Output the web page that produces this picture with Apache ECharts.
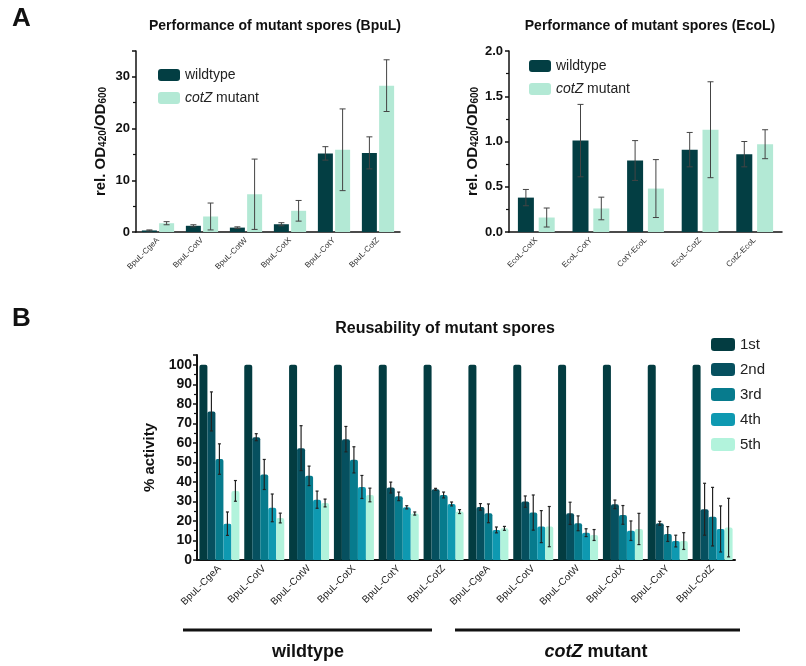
<!DOCTYPE html>
<html><head><meta charset="utf-8">
<script src="https://cdn.jsdelivr.net/npm/echarts@6/dist/echarts.min.js"></script>
<style>html,body{margin:0;padding:0;background:#fff}#c{width:806px;height:666px}</style>
</head><body><div id="c"></div>
<script>
// ---- Panel A left (BpuL) ----
const bpulCats = ['BpuL-CgeA','BpuL-CotV','BpuL-CotW','BpuL-CotX','BpuL-CotY','BpuL-CotZ'];
const bpulWT = [0.3, 1.2, 0.85, 1.5, 15.2, 15.3];
const bpulWTErr = [0.1, 0.2, 0.15, 0.3, 1.3, 3.1];
const bpulMut = [1.7, 3.0, 7.3, 4.1, 15.9, 28.3];
const bpulMutErr = [0.3, 2.6, 6.8, 2.0, 7.9, 5.0];
const bpulTicks = [0, 10, 20, 30];
// ---- Panel A right (EcoL) ----
const ecolCats = ['EcoL-CotX','EcoL-CotY','CotY-EcoL','EcoL-CotZ','CotZ-EcoL'];
const ecolWT = [0.38, 1.01, 0.79, 0.91, 0.86];
const ecolWTErr = [0.09, 0.40, 0.22, 0.19, 0.14];
const ecolMut = [0.16, 0.26, 0.48, 1.13, 0.97];
const ecolMutErr = [0.105, 0.125, 0.32, 0.53, 0.16];
// ---- Panel B ----
const reuseCats = ['BpuL-CgeA','BpuL-CotV','BpuL-CotW','BpuL-CotX','BpuL-CotY','BpuL-CotZ',
                   'BpuL-CgeA','BpuL-CotV','BpuL-CotW','BpuL-CotX','BpuL-CotY','BpuL-CotZ'];
const cycles = ['1st','2nd','3rd','4th','5th'];
const run1 = [100,100,100,100,100,100,100,100,100,100,100,100];
const run1Err = [0,0,0,0,0,0,0,0,0,0,0,0];
const run2 = [76.1, 62.9, 57.3, 61.9, 37.1, 36.2, 27.2, 29.9, 23.9, 28.5, 18.8, 26.0];
const run2Err = [10, 1.8, 11.5, 6.5, 2.8, 0.5, 1.7, 2.9, 5.7, 2.2, 1.0, 13.3];
const run3 = [51.7, 43.8, 43.1, 51.3, 32.6, 33.3, 23.9, 24.3, 18.8, 23.1, 13.3, 22.2];
const run3Err = [7.8, 7.7, 5.0, 6.7, 2.2, 1.5, 4.8, 9.0, 3.8, 4.8, 3.8, 15.0];
const run4 = [18.6, 26.7, 30.9, 37.4, 27.0, 28.7, 15.4, 17.1, 14.0, 15.0, 9.7, 15.9];
const run4Err = [6.0, 7.1, 4.4, 5.9, 0.8, 1.0, 1.5, 8.2, 2.0, 5.0, 3.0, 11.8];
const run5 = [35.4, 21.5, 29.2, 33.3, 23.8, 24.8, 16.2, 17.1, 12.8, 15.9, 9.7, 16.6];
const run5Err = [5.3, 2.5, 2.0, 3.5, 0.8, 1.0, 1.0, 10.3, 2.8, 8.0, 4.3, 15.0];
const groupLabels = ['wildtype', 'cotZ mutant'];

const FONT = "'Liberation Sans', Arial, sans-serif";
const cWT = '#033e43', cMut = '#b3e9d5';
const runColors = ['#033c41', '#06505f', '#077b8d', '#0e99b1', '#b2f3dc'];

const chart = echarts.init(document.getElementById('c'), null, {renderer: 'canvas'});

function errSeries(name, xi, yi, vals, errs, offset, cap, color, width) {
  return {
    type: 'custom', name: name, xAxisIndex: xi, yAxisIndex: yi, z: 10, silent: true,
    data: vals.map((v, i) => [i, v, errs[i]]),
    renderItem: function (params, api) {
      const i = api.value(0), v = api.value(1), e = api.value(2);
      if (!e) return null;
      const top = api.coord([i, v + e]);
      const bot = api.coord([i, Math.max(v - e, 0)]);
      const x = top[0] + offset;
      const st = {stroke: color, lineWidth: width};
      return {type: 'group', children: [
        {type: 'line', shape: {x1: x, y1: top[1], x2: x, y2: bot[1]}, style: st},
        {type: 'line', shape: {x1: x - cap, y1: top[1], x2: x + cap, y2: top[1]}, style: st},
        {type: 'line', shape: {x1: x - cap, y1: bot[1], x2: x + cap, y2: bot[1]}, style: st}
      ]};
    }
  };
}

const axisLineStyle = {lineStyle: {color: '#111', width: 1.5}};
const tickStyle = {lineStyle: {color: '#111', width: 1.5}, length: 4};

const yName = '{a|rel. OD}{s|420}{a|/OD}{s|600}';
const yNameStyle = {
  rich: {
    a: {fontSize: 15, fontWeight: 'bold', fontFamily: FONT, color: '#111', lineHeight: 20, verticalAlign: 'bottom'},
    s: {fontSize: 10, fontWeight: 'bold', fontFamily: FONT, color: '#111', lineHeight: 14, verticalAlign: 'bottom', padding: [0, 0, 0, 0]}
  }
};

const legendRich = {i: {fontStyle: 'italic', fontSize: 14, fontFamily: FONT, color: '#222'}};
function legendFmt(n) { return n === 'cotZ mutant' ? '{i|cotZ} mutant' : n; }

const option = {
  animation: false,
  backgroundColor: '#fff',
  textStyle: {fontFamily: FONT},
  title: [
    {text: 'Performance of mutant spores (BpuL)', left: 270, top: 14, textAlign: 'center',
     textStyle: {fontSize: 14, fontWeight: 'bold', fontFamily: FONT, color: '#111'}},
    {text: 'Performance of mutant spores (EcoL)', left: 645, top: 14, textAlign: 'center',
     textStyle: {fontSize: 14, fontWeight: 'bold', fontFamily: FONT, color: '#111'}},
    {text: 'Reusability of mutant spores', left: 440, top: 316, textAlign: 'center',
     textStyle: {fontSize: 16, fontWeight: 'bold', fontFamily: FONT, color: '#111'}}
  ],
  legend: [
    {data: ['wildtype', 'cotZ mutant'], left: 153, top: 63, orient: 'vertical', itemWidth: 22, itemHeight: 12,
     itemGap: 9, formatter: legendFmt, icon: 'roundRect',
     textStyle: {fontSize: 14, fontFamily: FONT, color: '#222', rich: legendRich},
     selectedMode: false},
    {data: [{name: 'wildtype '}, {name: 'cotZ mutant '}], left: 524, top: 54, orient: 'vertical', itemWidth: 22, itemHeight: 12,
     itemGap: 9, formatter: n => legendFmt(n.trim()), icon: 'roundRect',
     textStyle: {fontSize: 14, fontFamily: FONT, color: '#222', rich: legendRich},
     selectedMode: false},
    {data: cycles, left: 706, top: 332, orient: 'vertical', itemWidth: 24, itemHeight: 13, itemGap: 10,
     icon: 'roundRect', textStyle: {fontSize: 15, fontFamily: FONT, color: '#222'}, selectedMode: false}
  ],
  grid: [
    {left: 136, top: 51, width: 264, height: 181},
    {left: 509, top: 51, width: 273, height: 181},
    {left: 197, top: 355, width: 538, height: 205}
  ],
  xAxis: [
    {type: 'category', gridIndex: 0, data: bpulCats, axisLine: axisLineStyle,
     axisTick: Object.assign({alignWithLabel: true}, tickStyle),
     axisLabel: {rotate: 45, fontSize: 8, color: '#333', margin: 7, interval: 0, fontFamily: FONT}},
    {type: 'category', gridIndex: 1, data: ecolCats, axisLine: axisLineStyle,
     axisTick: Object.assign({alignWithLabel: true}, tickStyle),
     axisLabel: {rotate: 45, fontSize: 8, color: '#333', margin: 7, interval: 0, fontFamily: FONT}},
    {type: 'category', gridIndex: 2, data: reuseCats, axisLine: {lineStyle: {color: '#111', width: 2}},
     axisTick: Object.assign({alignWithLabel: true}, tickStyle),
     axisLabel: {rotate: 45, fontSize: 10, color: '#222', margin: 7, interval: 0, fontFamily: FONT}}
  ],
  yAxis: [
    {type: 'value', gridIndex: 0, min: 0, max: 35, interval: 10, splitLine: {show: false},
     axisLine: Object.assign({show: true}, axisLineStyle), axisTick: Object.assign({show: true}, tickStyle),
     minorTick: {show: true, splitNumber: 2, length: 3, lineStyle: {color: '#111', width: 1.2}},
     axisLabel: {fontSize: 13, fontWeight: 'bold', color: '#111', fontFamily: FONT, margin: 6,
       formatter: v => bpulTicks.indexOf(v) >= 0 ? String(v) : ''},
     name: yName, nameLocation: 'middle', nameRotate: 90, nameGap: 28, nameTextStyle: yNameStyle},
    {type: 'value', gridIndex: 1, min: 0, max: 2, interval: 0.5, splitLine: {show: false},
     axisLine: Object.assign({show: true}, axisLineStyle), axisTick: Object.assign({show: true}, tickStyle),
     minorTick: {show: true, splitNumber: 2, length: 3, lineStyle: {color: '#111', width: 1.2}},
     axisLabel: {fontSize: 13, fontWeight: 'bold', color: '#111', fontFamily: FONT, margin: 6,
       formatter: v => v.toFixed(1)},
     name: yName, nameLocation: 'middle', nameRotate: 90, nameGap: 29, nameTextStyle: yNameStyle},
    {type: 'value', gridIndex: 2, min: 0, max: 105, interval: 10, splitLine: {show: false},
     axisLine: Object.assign({show: true}, {lineStyle: {color: '#111', width: 2}}),
     axisTick: Object.assign({show: true}, tickStyle),
     minorTick: {show: true, splitNumber: 2, length: 3, lineStyle: {color: '#111', width: 1.2}},
     axisLabel: {fontSize: 14, fontWeight: 'bold', color: '#111', fontFamily: FONT, margin: 5,
       formatter: v => v > 100 ? '' : String(v)},
     name: '% activity', nameLocation: 'middle', nameRotate: 90, nameGap: 29,
     nameTextStyle: {fontSize: 15, fontWeight: 'bold', color: '#111', fontFamily: FONT}}
  ],
  series: [
    {type: 'bar', name: 'wildtype', xAxisIndex: 0, yAxisIndex: 0, data: bpulWT, barWidth: 15, barGap: '15%',
     itemStyle: {color: cWT}},
    {type: 'bar', name: 'cotZ mutant', xAxisIndex: 0, yAxisIndex: 0, data: bpulMut, barWidth: 15, barGap: '15%',
     itemStyle: {color: cMut}},
    errSeries('e1', 0, 0, bpulWT, bpulWTErr, -8.6, 3, '#444', 1),
    errSeries('e2', 0, 0, bpulMut, bpulMutErr, 8.6, 3, '#444', 1),
    {type: 'bar', name: 'wildtype ', xAxisIndex: 1, yAxisIndex: 1, data: ecolWT, barWidth: 16, barGap: '30%',
     itemStyle: {color: cWT}},
    {type: 'bar', name: 'cotZ mutant ', xAxisIndex: 1, yAxisIndex: 1, data: ecolMut, barWidth: 16, barGap: '30%',
     itemStyle: {color: cMut}},
    errSeries('e3', 1, 1, ecolWT, ecolWTErr, -10.4, 3, '#444', 1),
    errSeries('e4', 1, 1, ecolMut, ecolMutErr, 10.4, 3, '#444', 1)
  ].concat(
    [run1, run2, run3, run4, run5].map((d, k) => ({
      type: 'bar', name: cycles[k], xAxisIndex: 2, yAxisIndex: 2, data: d, barWidth: 8, barGap: '0%',
      itemStyle: {color: runColors[k], borderRadius: [2, 2, 0, 0]}
    })),
    [[run1, run1Err], [run2, run2Err], [run3, run3Err], [run4, run4Err], [run5, run5Err]].map((p, k) =>
      errSeries('r' + k, 2, 2, p[0], p[1], (k - 2) * 8, 1.5, '#222', 1.2))
  ),
  graphic: [
    {type: 'text', left: 12, top: 6, style: {text: 'A', font: 'bold 26px ' + FONT, fill: '#111'}},
    {type: 'text', left: 12, top: 306, style: {text: 'B', font: 'bold 26px ' + FONT, fill: '#111'}},
    {type: 'line', shape: {x1: 183, y1: 630, x2: 432, y2: 630}, style: {stroke: '#111', lineWidth: 3}},
    {type: 'line', shape: {x1: 455, y1: 630, x2: 740, y2: 630}, style: {stroke: '#111', lineWidth: 3}},
    {type: 'text', x: 308, y: 652, style: {text: groupLabels[0], font: 'bold 18px ' + FONT, fill: '#111',
      textAlign: 'center', textVerticalAlign: 'middle'}},
    {type: 'text', x: 596, y: 652, style: {
      text: '{i|cotZ}{n| mutant}', textAlign: 'center', textVerticalAlign: 'middle',
      rich: {i: {font: 'italic bold 18px ' + FONT, fill: '#111'}, n: {font: 'bold 18px ' + FONT, fill: '#111'}}}}
  ]
};
chart.setOption(option);
</script>
</body></html>
